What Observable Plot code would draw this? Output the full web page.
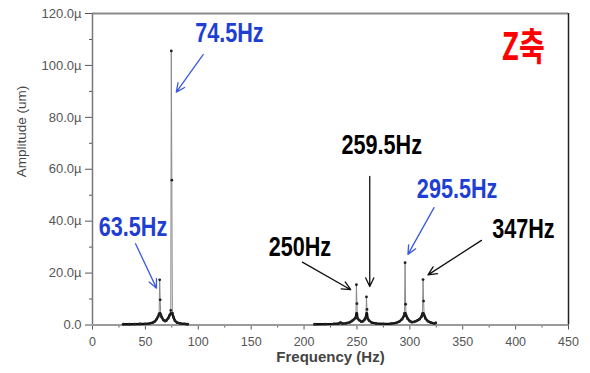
<!DOCTYPE html>
<html>
<head>
<meta charset="utf-8">
<script src="https://cdn.jsdelivr.net/npm/d3@7"></script>
<script src="https://cdn.jsdelivr.net/npm/@observablehq/plot@0.6"></script>
<style>
  html, body { margin: 0; padding: 0; background: #fff; }
  svg { display: block; }
</style>
</head>
<body>
<script>
// Spectrum, low band (Hz, µm)
const lowFreq = [29, 35, 40, 45, 50, 54, 57, 59, 60.5, 62, 63, 63.5, 64, 64.5, 65.5, 67, 68.5, 70, 71.5, 73, 74, 74.5, 75, 75.5, 76.5, 78, 80, 83, 87, 90];
const lowAmp  = [0.3, 0.3, 0.35, 0.4, 0.45, 0.6, 0.9, 1.4, 2.2, 3.2, 4.3, 17.4, 9.7, 4.0, 3.0, 1.9, 1.5, 1.8, 2.6, 3.8, 5.6, 105.6, 55.8, 4.6, 3.0, 1.6, 0.9, 0.6, 0.45, 0.3];
// Spectrum, high band (Hz, µm)
const highFreq = [210, 220, 228, 233, 234.5, 236, 240, 243, 245.5, 247.5, 249, 249.5, 250, 250.5, 252, 254, 255.5, 257, 258.5, 259, 259.5, 260, 261.5, 264, 268, 275, 282, 287, 290, 292.5, 294.5, 295, 295.5, 296, 296.5, 298, 300, 302, 304, 306.5, 309, 311, 312, 312.5, 313, 313.5, 315, 317, 320, 323, 324.5];
const highAmp  = [0.3, 0.35, 0.45, 0.6, 0.9, 0.6, 0.7, 1.0, 1.6, 2.3, 3.0, 15.5, 8.2, 2.6, 1.9, 1.3, 1.4, 2.0, 3.0, 10.8, 6.0, 2.6, 1.7, 0.9, 0.6, 0.45, 0.5, 0.8, 1.3, 2.2, 3.5, 4.5, 24.0, 8.0, 3.6, 2.4, 1.5, 1.1, 1.2, 1.6, 2.2, 3.2, 4.4, 17.5, 9.2, 3.8, 2.4, 1.5, 0.9, 0.6, 0.8];

// Axis ticks
const xTicks = [0, 50, 100, 150, 200, 250, 300, 350, 400, 450];
const xMinorTicks = [25, 75, 125, 175, 225, 275, 325, 375, 425];
const yTicks = [0, 20, 40, 60, 80, 100, 120];
const yMinorTicks = [10, 30, 50, 70, 90, 110];

// Annotations (data coordinates)
const peakLabels = ["63.5Hz", "74.5Hz", "250Hz", "259.5Hz", "295.5Hz", "347Hz"];
const peakLabelBlue = [true, true, false, false, true, false];
const labelFreq = [38.3, 129.4, 196.0, 273.4, 344.7, 407.3];
const labelAmp  = [37.7, 112.4, 30.1, 69.2, 52.2, 36.8];
const arrowFromFreq = [40.7, 104.6, 198.4, 262.1, 322.9, 367.7];
const arrowFromAmp  = [31.3, 104.2, 24.2, 57.2, 45.2, 32.6];
const arrowToFreq   = [60.5, 79.2, 244.1, 262.1, 298.2, 317.2];
const arrowToAmp    = [14.2, 89.7, 13.6, 14.8, 27.2, 19.3];
const axisTitle = "Z축";
const axisTitleFreq = 407.3, axisTitleAmp = 106.7;

const spectrum = [
  ...lowFreq.map((f, i) => ({f, a: lowAmp[i], band: "low"})),
  ...highFreq.map((f, i) => ({f, a: highAmp[i], band: "high"}))
];
const notes = peakLabels.map((t, i) => ({
  t, blue: peakLabelBlue[i], x: labelFreq[i], y: labelAmp[i],
  x1: arrowFromFreq[i], y1: arrowFromAmp[i], x2: arrowToFreq[i], y2: arrowToAmp[i]
}));

const BLUE_TEXT = "#1f3fd2", BLUE_ARROW = "#3a5be0";
const annFont = "'Liberation Sans', Arial, sans-serif";

const chart = Plot.plot({
  width: 590,
  height: 373,
  marginLeft: 92,
  marginRight: 22,
  marginTop: 13,
  marginBottom: 48.5,
  style: {fontFamily: "'Liberation Sans', Arial, sans-serif", background: "#fff"},
  x: {domain: [0, 450]},
  y: {domain: [0, 120]},
  marks: [
    // frame
    Plot.ruleY([120], {stroke: "#8a8a8a", strokeWidth: 2}),
    Plot.ruleX([450], {stroke: "#222", strokeWidth: 1.5}),
    // axes
    Plot.axisY({ticks: yTicks, tickSize: 7, tickPadding: 4, fontSize: 13, color: "#555",
      tickFormat: d => d === 0 ? "0.0" : d.toFixed(1) + "µ", label: null}),
    Plot.axisY({ticks: yMinorTicks, tickSize: 3, text: null, color: "#555", label: null}),
    Plot.axisX({ticks: xTicks, tickSize: 5, tickPadding: 7, fontSize: 12.5, color: "#555", label: null}),
    Plot.axisX({ticks: xMinorTicks, tickSize: 3, text: null, color: "#555", label: null}),
    Plot.ruleX([0], {stroke: "#777", strokeWidth: 1.5}),
    Plot.ruleY([0], {stroke: "#9a9a9a", strokeWidth: 2}),
    // axis titles
    Plot.text(["Amplitude (um)"], {frameAnchor: "left", dx: -71, dy: 8, rotate: -90, fontSize: 13.5, fill: "#444"}),
    Plot.text(["Frequency (Hz)"], {frameAnchor: "bottom", dy: 37, fontSize: 15, fontWeight: "bold", fill: "#444"}),
    // spectrum
    Plot.line(spectrum, {x: "f", y: "a", z: "band", stroke: "#8a8a8a", strokeWidth: 1}),
    Plot.line(spectrum, {x: "f", y: d => Math.min(d.a, 4.5), z: "band", stroke: "#111", strokeWidth: 2.4}),
    Plot.dot(spectrum, {x: "f", y: "a", r: 1.4, fill: "#222", stroke: "none"}),
    // annotations
    Plot.arrow(notes, {x1: "x1", y1: "y1", x2: "x2", y2: "y2", bend: 0, headLength: 11, headAngle: 50,
      stroke: d => d.blue ? BLUE_ARROW : "#111", strokeWidth: 1.3}),
    Plot.text(notes, {x: "x", y: "y", text: "t", fontSize: 27, fontWeight: "bold", fontFamily: annFont,
      fill: d => d.blue ? BLUE_TEXT : "#000"}),
    Plot.text([axisTitle], {x: () => axisTitleFreq, y: () => axisTitleAmp, fontSize: 38, fontWeight: "bold",
      fontFamily: "'Noto Sans CJK KR', sans-serif", fill: "#ff0000"})
  ]
});
document.body.appendChild(chart);

// horizontal condensing of the annotation lettering
const squeeze = new Map([...peakLabels.map(t => [t, 0.8]), [axisTitle, 0.74]]);
chart.querySelectorAll("text").forEach(el => {
  const k = squeeze.get(el.textContent);
  if (k) {
    const w = el.getComputedTextLength();
    el.setAttribute("textLength", (w * k).toFixed(1));
    el.setAttribute("lengthAdjust", "spacingAndGlyphs");
  }
});
</script>
</body>
</html>
